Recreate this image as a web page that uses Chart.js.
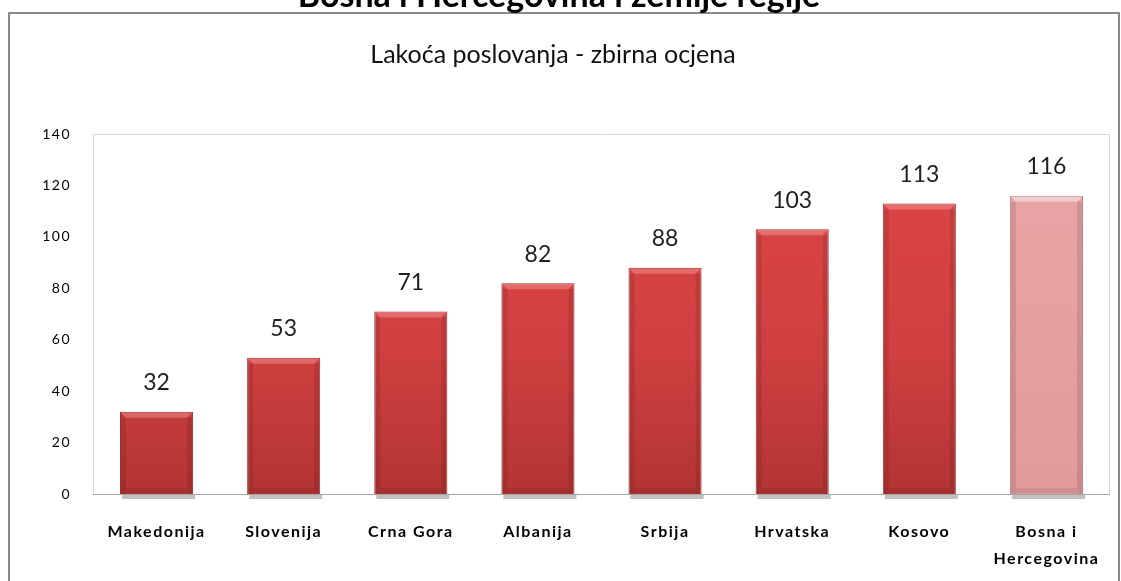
<!DOCTYPE html>
<html>
<head>
<meta charset="utf-8">
<script src="https://cdn.jsdelivr.net/npm/chart.js@4.4.0/dist/chart.umd.min.js"></script>
<style>
  html, body { margin: 0; padding: 0; background: #fff; }
  #wrap { width: 1121px; height: 581px; position: relative; }
</style>
</head>
<body>
<div id="wrap"><canvas id="chart"></canvas></div>
<script>
// Podaci sa slike
const categories = ['Makedonija', 'Slovenija', 'Crna Gora', 'Albanija', 'Srbija', 'Hrvatska', 'Kosovo', ['Bosna i', 'Hercegovina']];
const scores = [32, 53, 71, 82, 88, 103, 113, 116];
const highlighted = [false, false, false, false, false, false, false, true];
const yTicks = [0, 20, 40, 60, 80, 100, 120, 140];

const pageTitle = 'Bosna i Hercegovina i zemlje regije';
const chartTitle = 'Lakoća poslovanja - zbirna ocjena';
const FONT = 'Lato, "Open Sans", sans-serif';

// gradijent za stupce
function barFill(context) {
  const chart = context.chart;
  const area = chart.chartArea;
  if (!area) return '#d04040';
  const g = chart.ctx.createLinearGradient(0, area.top, 0, area.bottom);
  if (highlighted[context.dataIndex]) {
    g.addColorStop(0, '#e9a6a6');
    g.addColorStop(1, '#e29a9a');
  } else {
    g.addColorStop(0, '#de4646');
    g.addColorStop(0.6, '#d04040');
    g.addColorStop(1, '#b33434');
  }
  return g;
}

// okvir, naslovi, sjene i vrijednosti iznad stupaca
const decorations = {
  id: 'decorations',
  beforeDraw(chart) {
    // razmak slova za oznake osi
    chart.ctx.letterSpacing = '1.5px';
  },
  beforeDatasetsDraw(chart) {
    const { ctx, chartArea } = chart;
    ctx.letterSpacing = '0px';
    ctx.save();
    // sjena ispod stupaca
    const meta = chart.getDatasetMeta(0);
    meta.data.forEach(bar => {
      ctx.fillStyle = 'rgba(140,140,140,0.55)';
      ctx.fillRect(bar.x - bar.width / 2 + 2, chartArea.bottom + 1, bar.width, 4);
    });
    ctx.restore();
  },
  afterDraw(chart) {
    const { ctx, chartArea } = chart;
    ctx.save();
    ctx.letterSpacing = '0px';
    // vanjski okvir
    ctx.strokeStyle = '#8a8a8a';
    ctx.lineWidth = 2;
    ctx.beginPath();
    ctx.moveTo(9, 581);
    ctx.lineTo(9, 13);
    ctx.lineTo(1119, 13);
    ctx.lineTo(1119, 581);
    ctx.stroke();

    // okvir podrucja crtanja
    ctx.lineWidth = 1;
    ctx.strokeStyle = '#d9d9d9';
    ctx.beginPath();
    ctx.moveTo(chartArea.left + 0.5, chartArea.bottom);
    ctx.lineTo(chartArea.left + 0.5, chartArea.top + 0.5);
    ctx.lineTo(chartArea.right - 0.5, chartArea.top + 0.5);
    ctx.lineTo(chartArea.right - 0.5, chartArea.bottom);
    ctx.stroke();
    ctx.strokeStyle = '#a6a6a6';
    ctx.beginPath();
    ctx.moveTo(chartArea.left, chartArea.bottom + 0.5);
    ctx.lineTo(chartArea.right, chartArea.bottom + 0.5);
    ctx.stroke();

    // naslovi
    ctx.fillStyle = '#000';
    ctx.textAlign = 'center';
    ctx.textBaseline = 'alphabetic';
    ctx.font = 'bold 34px ' + FONT;
    ctx.fillText(pageTitle, 559, 7);
    ctx.font = '25px ' + FONT;
    ctx.fillStyle = '#111';
    ctx.fillText(chartTitle, 553, 63);

    const meta = chart.getDatasetMeta(0);

    // efekt ukosenog ruba na stupcima
    meta.data.forEach((bar, i) => {
      const l = bar.x - bar.width / 2, r = bar.x + bar.width / 2;
      const t = bar.y, b = bar.base;
      const e = 6;
      ctx.fillStyle = 'rgba(0,0,0,0.10)';
      ctx.fillRect(l + 1, t + e, e - 1, b - t - e);
      ctx.fillRect(r - e, t + e, e - 1, b - t - e);
      ctx.fillStyle = 'rgba(0,0,0,0.08)';
      ctx.fillRect(l + e, b - e, r - l - 2 * e, e - 1);
      ctx.fillStyle = highlighted[i] ? 'rgba(255,255,255,0.45)' : 'rgba(255,170,170,0.40)';
      ctx.beginPath();
      ctx.moveTo(l + 1, t + 1);
      ctx.lineTo(r - 1, t + 1);
      ctx.lineTo(r - e, t + e);
      ctx.lineTo(l + e, t + e);
      ctx.closePath();
      ctx.fill();
    });

    // vrijednosti
    ctx.font = '23px ' + FONT;
    ctx.fillStyle = '#222';
    ctx.textBaseline = 'middle';
    meta.data.forEach((bar, i) => {
      ctx.fillText(String(scores[i]), bar.x, bar.y - 29);
    });
    ctx.restore();
  }
};

const chart = new Chart(document.getElementById('chart'), {
  type: 'bar',
  data: {
    labels: categories,
    datasets: [{
      data: scores,
      backgroundColor: barFill,
      borderColor: ctx => highlighted[ctx.dataIndex] ? '#b98484' : '#9e2c2c',
      borderWidth: 1,
      categoryPercentage: 1,
      barPercentage: 0.575
    }]
  },
  plugins: [decorations],
  options: {
    responsive: true,
    maintainAspectRatio: false,
    animation: false,
    layout: { padding: { top: 134, left: 20, right: 11, bottom: 0 } },
    plugins: {
      legend: { display: false },
      tooltip: { enabled: false }
    },
    scales: {
      y: {
        min: 0,
        max: 140,
        afterBuildTicks: scale => { scale.ticks = yTicks.map(v => ({ value: v })); },
        afterFit: scale => { scale.width = 73; },
        grid: { display: false, drawTicks: false },
        border: { display: false },
        ticks: {
          padding: 22,
          color: '#000',
          font: { family: FONT, size: 14 }
        }
      },
      x: {
        afterFit: scale => { scale.height = 87; },
        grid: { display: false, drawTicks: false },
        border: { display: false },
        ticks: {
          padding: 24,
          color: '#000',
          maxRotation: 0,
          autoSkip: false,
          font: { family: FONT, size: 16, weight: 'bold', lineHeight: 1.7 }
        }
      }
    }
  }
});
</script>
</body>
</html>
